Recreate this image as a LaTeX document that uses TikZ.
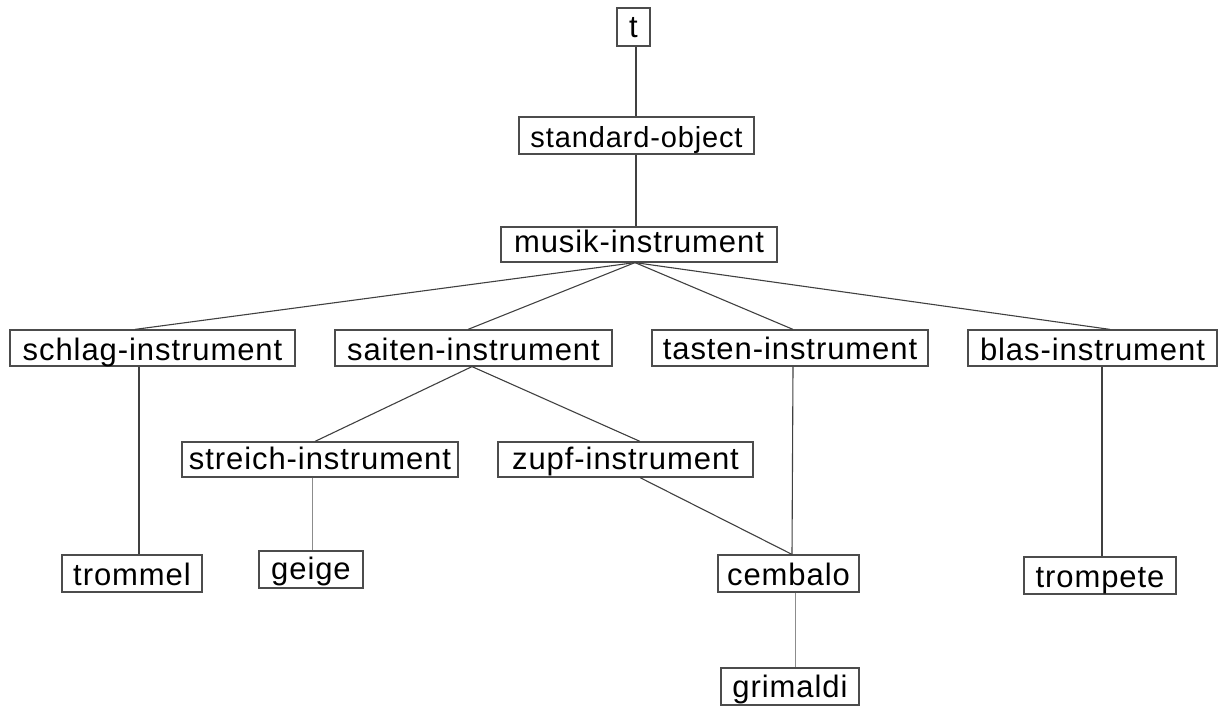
\documentclass[tikz,border=0pt]{standalone}
\usepackage{fontspec}
\setmainfont{Liberation Sans}[LetterSpace=3]
\begin{document}
\begin{tikzpicture}[x=1pt,y=-1pt,
  cls/.style={draw=black!70,line width=1.2pt,inner sep=0pt,
    font=\fontsize{31}{31}\selectfont,text=black,fill=white},
  % box/.style: width, text height above the baseline, depth below it
  box/.style n args={3}{minimum width=#1,text height=#2,text depth=#3},
  link/.style={draw=black!75,line width=1.1pt},
  thin link/.style={draw=black!45,line width=0.8pt}]
\useasboundingbox (0,0) rectangle (1220,706);
% class boxes
\node[cls,box={33pt}{30pt}{8pt}]   (t)        at (633.5,27)    {t};
\node[cls,box={235pt}{30pt}{7pt},font=\fontsize{29}{29}\selectfont]
                                   (std)      at (636.5,135.5) {standard-object};
\node[cls,box={276pt}{25pt}{10pt}] (musik)    at (639,244.5)   {musik-instrument};
\node[cls,box={285pt}{30pt}{6pt}]  (schlag)   at (152.5,348)   {schlag-instrument};
\node[cls,box={277pt}{30pt}{6pt}]  (saiten)   at (473.5,348)   {saiten-instrument};
\node[cls,box={276pt}{29pt}{7pt}]  (tasten)   at (790,348)     {tasten-instrument};
\node[cls,box={249pt}{30pt}{6pt}]  (blas)     at (1092.5,348)  {blas-instrument};
\node[cls,box={276pt}{27pt}{8pt}]  (streich)  at (320,459.5)   {streich-instrument};
\node[cls,box={255pt}{27pt}{8pt}]  (zupf)     at (625.5,459.5) {zupf-instrument};
\node[cls,box={140pt}{30pt}{7pt}]  (trommel)  at (132,573.5)   {trommel};
\node[cls,box={104pt}{28pt}{9pt}]  (geige)    at (311,569.5)   {geige};
\node[cls,box={141pt}{30pt}{7pt}]  (cembalo)  at (788.5,573.5) {cembalo};
\node[cls,box={152pt}{30pt}{7pt}]  (trompete) at (1100,575.5)  {trompete};
\node[cls,box={138pt}{29pt}{8pt}]  (grimaldi) at (790,686.5)   {grimaldi};
% inheritance links
\draw[link] ([xshift=2.5]t.south) -- ([xshift=-0.5]std.north);
\draw[link] ([xshift=-0.5]std.south) -- ([xshift=-3]musik.north);
\draw[link] ([xshift=-4]musik.south) -- ([xshift=-17.5]schlag.north);
\draw[link] ([xshift=-4]musik.south) -- ([xshift=-5.5]saiten.north);
\draw[link] ([xshift=-4]musik.south) -- ([xshift=3]tasten.north);
\draw[link] ([xshift=-4]musik.south) -- ([xshift=17.5]blas.north);
\draw[link] ([xshift=-13.5]schlag.south) -- ([xshift=7]trommel.north);
\draw[link] ([xshift=-1.5]saiten.south) -- ([xshift=-5]streich.north);
\draw[link] ([xshift=-1.5]saiten.south) -- ([xshift=14.5]zupf.north);
\draw[thin link] ([xshift=-8]streich.south) -- ([xshift=1]geige.north);
\draw[link] ([xshift=14.5]zupf.south) -- ([xshift=3.5]cembalo.north);
\draw[link] ([xshift=3]tasten.south) -- ([xshift=3.5]cembalo.north);
\draw[link] ([xshift=9.5]blas.south) -- ([xshift=2]trompete.north);
\draw[thin link] ([xshift=6.5]cembalo.south) -- ([xshift=5]grimaldi.north);
\end{tikzpicture}
\end{document}
